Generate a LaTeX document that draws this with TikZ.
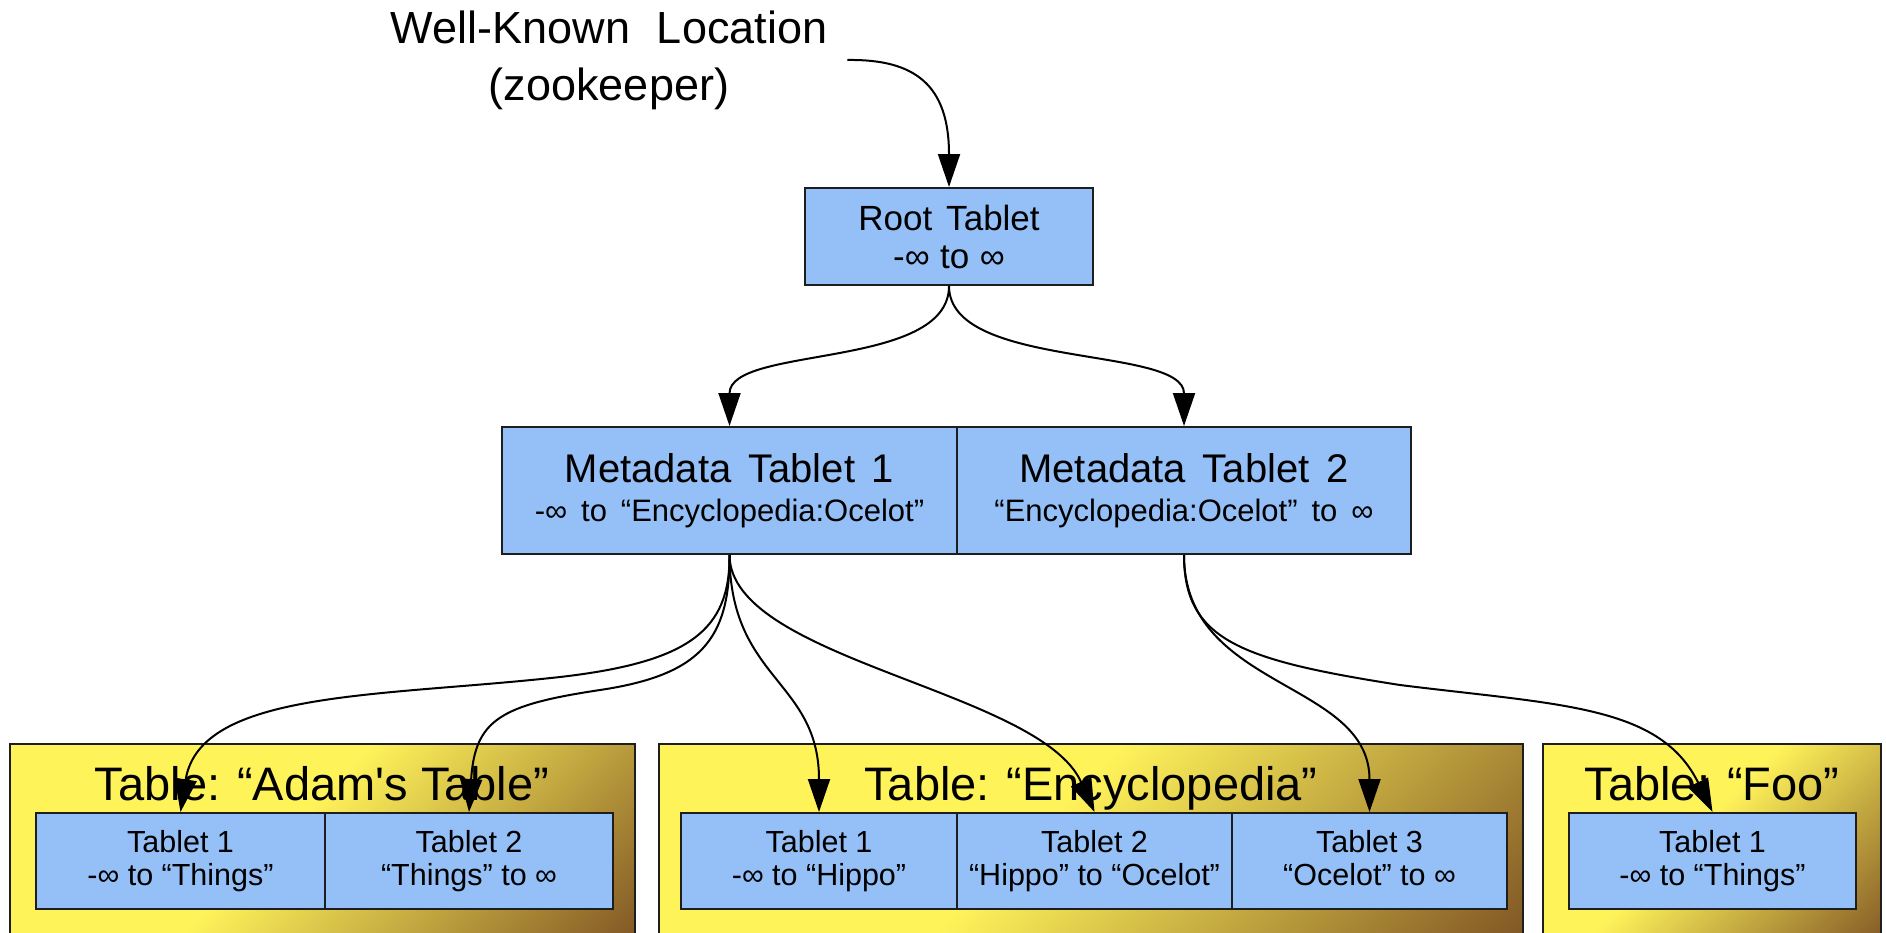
\documentclass[tikz,border=0pt]{standalone}
\usepackage{fontspec}
\newfontfamily\lib{Liberation Sans}
\newcommand{\wsp}[1]{\hspace{#1em}}
\usetikzlibrary{arrows.meta}
\definecolor{tabblue}{RGB}{148,192,247}
\definecolor{edgegray}{RGB}{30,30,30}
\definecolor{grpY}{RGB}{255,243,90}
\definecolor{grpB}{RGB}{125,82,35}
\pgfdeclarehorizontalshading{grpshade}{100bp}{color(0bp)=(grpY); color(45bp)=(grpY); color(85bp)=(grpB); color(100bp)=(grpB)}
\begin{document}
\begin{tikzpicture}[x=1pt,y=-1pt,
  box/.style={draw=edgegray, line width=2pt, fill=tabblue, rectangle, inner sep=0pt, align=center, text=black},
  tabletbox/.style={box, minimum height=96pt, font=\lib\fontsize{30.5}{33}\selectfont, execute at end node={\vphantom{g}}},
  group/.style={draw=edgegray, line width=2pt, shade, shading=grpshade, shading angle=-45, minimum height=217pt, anchor=north, inner sep=0pt},
  grouptitle/.style={font=\lib\fontsize{47}{50}\selectfont, anchor=base, inner sep=0pt},
  link/.style={draw=black, line width=2pt, -{Triangle[length=33pt,width=22pt]}}
]
\useasboundingbox (0,0) rectangle (1886,932);
% table groups
\node[group, minimum width=625pt] (adamgrp) at (322.5,743) {};
\node[group, minimum width=864pt] (encgrp) at (1091,743) {};
\node[group, minimum width=338pt] (foogrp) at (1712,743) {};
\node[grouptitle] (adamtitle) at (322,800) {Table:\wsp{0.36}“Adam's Table”};
\node[grouptitle] (enctitle) at (1091,800) {Table:\wsp{0.36}“Encyclopedia”};
\node[grouptitle] (footitle) at (1712,800) {Table:\wsp{0.36}“Foo”};
% tablets
\node[tabletbox, minimum width=289pt] (adam1) at (180.5,861) {Tablet 1\\-∞ to “Things”};
\node[tabletbox, minimum width=288pt] (adam2) at (469,861) {Tablet 2\\“Things” to ∞};
\node[tabletbox, minimum width=276pt] (enc1) at (819,861) {Tablet 1\\-∞ to “Hippo”};
\node[tabletbox, minimum width=275pt] (enc2) at (1094.5,861) {Tablet 2\\“Hippo” to “Ocelot”};
\node[tabletbox, minimum width=275pt] (enc3) at (1369.5,861) {Tablet 3\\“Ocelot” to ∞};
\node[tabletbox, minimum width=287pt] (foo1) at (1712.5,861) {Tablet 1\\-∞ to “Things”};
% metadata
\node[box, minimum width=455pt, minimum height=127pt, font=\lib\fontsize{31}{39}\selectfont] (meta1) at (729.5,490.5) {{\fontsize{40}{39}\selectfont Metadata\wsp{0.42}Tablet\wsp{0.42}1}\\-∞\wsp{0.45}to\wsp{0.45}“Encyclopedia:Ocelot”};
\node[box, minimum width=454pt, minimum height=127pt, font=\lib\fontsize{31}{39}\selectfont] (meta2) at (1184,490.5) {{\fontsize{40}{39}\selectfont Metadata\wsp{0.42}Tablet\wsp{0.42}2}\\“Encyclopedia:Ocelot”\wsp{0.45}to\wsp{0.45}∞};
% root
\node[box, minimum width=288pt, minimum height=97pt, font=\lib\fontsize{35}{38}\selectfont] (root) at (949,236.5) {Root\wsp{0.4}Tablet\\-∞\wsp{0.3}to\wsp{0.3}∞};
% well-known location
\node[font=\lib\fontsize{45}{57}\selectfont, align=center, inner xsep=20pt, inner ysep=0pt] (wk) at (609,60) {Well-Known\wsp{0.6}Location\\(zookeeper)};
% connectors
\draw[link] (wk.east) .. controls (915,59) and (949,85) .. (root.north);
\draw[link] (root.south) .. controls (949,370) and (729.5,345) .. (meta1.north);
\draw[link] (root.south) .. controls (949,370) and (1184,345) .. (meta2.north);
\draw[link] (meta1.south) .. controls (730,630) and (690,662) .. (560,677) .. controls (380,697) and (200,690) .. (adam1.north);
\draw[link] (meta1.south) .. controls (730,640) and (700,675) .. (600,690) .. controls (500,705) and (475,720) .. (adam2.north);
\draw[link] (meta1.south) .. controls (730,680) and (819,680) .. (enc1.north);
\draw[link] (meta1.south) .. controls (730,660) and (1040,690) .. (enc2.north);
\draw[link] (meta2.south) .. controls (1184,690) and (1369.5,680) .. (enc3.north);
\draw[link] (meta2.south) .. controls (1184,640) and (1240,660) .. (1400,685) .. controls (1560,705) and (1660,705) .. (foo1.north);
\end{tikzpicture}
\end{document}
